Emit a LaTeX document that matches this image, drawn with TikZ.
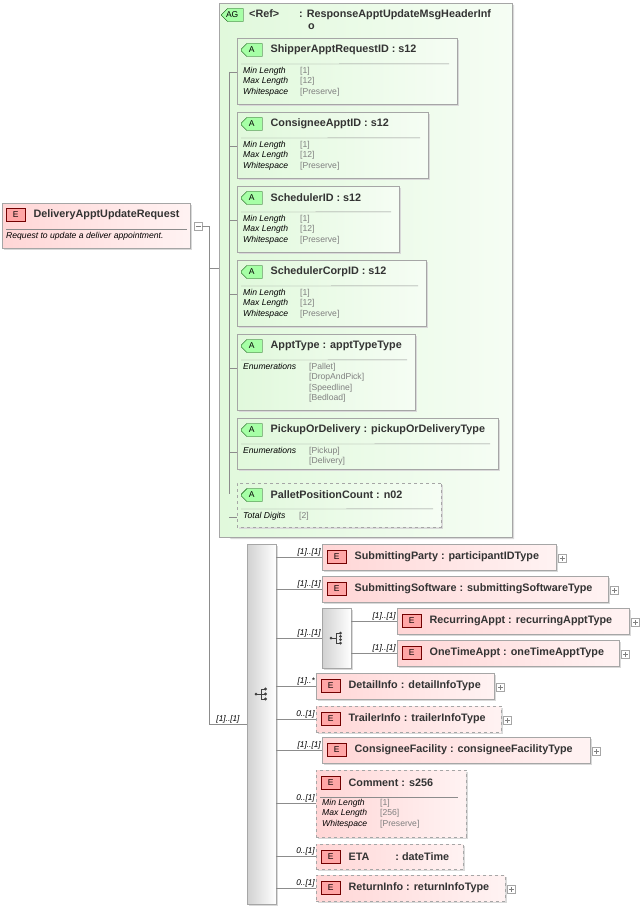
\documentclass[tikz,border=0pt]{standalone}
\usepackage{fontspec}
\setmainfont{Liberation Sans}
\usetikzlibrary{shapes.misc,calc}
\definecolor{epink}{HTML}{FFD6D6}
\definecolor{agreen}{HTML}{D9F7D3}
\definecolor{valgray}{HTML}{808080}
\tikzset{
  elem/.style={draw=black!35,left color=epink,right color=epink!30,inner sep=0,anchor=north west},
  opt/.style={dashed},
  attr/.style={chamfered rectangle,chamfered rectangle corners={north west,south west},
    chamfered rectangle xsep=4pt,draw=black!35,left color=agreen!80,right color=agreen!25,inner sep=0,anchor=north west},
  ebadge/.style={draw=red!45!black,fill=red!35,minimum width=19pt,minimum height=13pt,inner sep=0,
    font=\fontsize{8.5}{9}\selectfont,anchor=west},
  abadge/.style={chamfered rectangle,chamfered rectangle corners={north west,south west},chamfered rectangle xsep=3pt,
    draw=green!30!black,fill=green!35,minimum width=21pt,minimum height=13pt,inner sep=0,
    font=\fontsize{8.5}{9}\selectfont,anchor=west},
  ttl/.style={font=\bfseries\fontsize{10.8}{12}\selectfont,anchor=west,inner sep=0,text=black!80},
  flab/.style={font=\itshape\fontsize{8.6}{10.3}\selectfont,anchor=north west,align=left,inner sep=0},
  fval/.style={font=\fontsize{8.6}{10.3}\selectfont,anchor=north west,align=left,inner sep=0,text=valgray},
  card/.style={font=\itshape\fontsize{8.3}{9}\selectfont,anchor=south east,inner sep=1pt},
  cardy/.style={font=\itshape\fontsize{8.3}{9}\selectfont,anchor=south,inner sep=1pt},
  pls/.style={draw=black!35,fill=white,minimum size=8pt,inner sep=0},
  grp/.style={draw=black!35,left color=black!18,right color=white,inner sep=0,anchor=north west},
  conn/.style={draw=black!45,line width=0.5pt}
}
% element: name, extra style, x, y, w, h, title
\newcommand{\elm}[7]{%
  \fill[black!15] (#3+2,#4+2) rectangle ++(#5,#6);
  \node[elem,#2,minimum width=#5pt,minimum height=#6pt] (#1) at (#3,#4) {};
  \node[ebadge] (#1b) at ([xshift=5pt,yshift=-13pt]#1.north west) {E};
  \node[ttl] (#1t) at ([xshift=8pt]#1b.east) {#7};}
% attribute: name, extra style, y, w, h, title
\newcommand{\att}[6]{%
  \fill[black!15] (239,#3+2) rectangle ++(#4,#5);
  \node[attr,#2,minimum width=#4pt,minimum height=#5pt] (#1) at (237,#3) {};
  \node[abadge] (#1b) at ([xshift=4pt,yshift=-12pt]#1.north west) {A};
  \node[ttl] (#1t) at ([xshift=8pt]#1b.east) {#6};
  \draw[black!45] ($(#1.north west)+(4,26)$) -- ($(#1.north east)+(-8,26)$);}
% facets: box, value offset, labels, values
\newcommand{\fct}[4]{%
  \node[flab] at ($(#1.north west)+(6,29)$) {#3};
  \node[fval] at ($(#1.north west)+(#2,29)$) {#4};}
\begin{document}
\begin{tikzpicture}[x=1pt,y=-1pt]
\useasboundingbox (0,0) rectangle (639,909);
% root element
\fill[black!15] (4,205) rectangle ++(188,45);
\node[elem,minimum width=188pt,minimum height=45pt] (root) at (2,203) {};
\node[ebadge] (rootb) at (6,215) {E};
\node[ttl] (roott) at ([xshift=8pt]rootb.east) {DeliveryApptUpdateRequest};
\draw[black!45] (6,229) -- (187,229);
\node[flab] at (6,232) {Request to update a deliver appointment.};
\node[pls] (rootm) at (198,226) {};
\draw[black!50] (195.5,226) -- (200.5,226);
% attribute group
\fill[black!15] (221,5) -- (514,5) -- (514,539) -- (231,539) -- (221,529) -- cycle;
\node[attr,chamfered rectangle xsep=10pt,minimum width=293pt,minimum height=534pt] (ag) at (219,3) {};
\node[abadge,minimum width=22pt] (agb) at (221,15) {AG};
\node[ttl,anchor=north west] (agref) at (249,9) {<Ref>};
\node[ttl,anchor=north west,align=left] (agt) at (299,9) {: ResponseApptUpdateMsgHeaderInf\\\hspace*{9pt}o};
\att{apr}{}{38}{220}{66}{ShipperApptRequestID : s12}
\fct{apr}{63}{Min Length\\Max Length\\Whitespace}{{[1]}\\{}[12]\\{}[Preserve]}
\att{cai}{}{112}{191}{66}{ConsigneeApptID : s12}
\fct{cai}{63}{Min Length\\Max Length\\Whitespace}{{[1]}\\{}[12]\\{}[Preserve]}
\att{sid}{}{186}{162}{66}{SchedulerID : s12}
\fct{sid}{63}{Min Length\\Max Length\\Whitespace}{{[1]}\\{}[12]\\{}[Preserve]}
\att{scid}{}{260}{189}{66}{SchedulerCorpID : s12}
\fct{scid}{63}{Min Length\\Max Length\\Whitespace}{{[1]}\\{}[12]\\{}[Preserve]}
\att{atype}{}{334}{178}{76}{ApptType : apptTypeType}
\fct{atype}{72}{Enumerations}{{[Pallet]}\\{}[DropAndPick]\\{}[Speedline]\\{}[Bedload]}
\att{pod}{}{418}{261}{51}{PickupOrDelivery : pickupOrDeliveryType}
\fct{pod}{72}{Enumerations}{{[Pickup]}\\{}[Delivery]}
\att{ppc}{opt,fill=white}{483}{204}{44}{PalletPositionCount : n02}
\fct{ppc}{62}{Total Digits}{{[2]}}
\coordinate (agtop) at (229,72);
\draw[conn] (agtop) -- (229,494);
\foreach \a in {apr,cai,sid,scid,atype,pod,ppc}
  \draw[conn] (agtop |- {$(\a.north west)+(0,34)$}) -- ($(\a.north west)+(0,34)$);
% sequence
\fill[black!15] (249,546) rectangle ++(29,360);
\node[grp,minimum width=29pt,minimum height=360pt] (seq) at (247,544) {};
\fill[black!15] (324,610) rectangle ++(29,60);
\node[grp,minimum width=29pt,minimum height=60pt] (cho) at (322,608) {};
% trunk
\coordinate (tk) at (209,226);
\draw[conn] (rootm.east) -- (tk) -- (tk |- seq.west) -- (seq.west) node[cardy,pos=0.5] {[1]..[1]};
\draw[conn] (tk |- 0,268) -- (ag.west |- 0,268);
% sequence icon
\begin{scope}[shift={(261,694)}]
  \fill[black!75] (-5,0) circle (1.5);
  \draw[black!75] (-5,0) -- (0,0) (0,-5) -- (0,5) (0,-5) -- (4,-5) (0,5) -- (4,5) (0,0) -- (4,0);
  \foreach \yy in {-5,0,5} \fill[black!75] (4.5,\yy) circle (1.7);
\end{scope}
% choice icon
\begin{scope}[shift={(336,638)}]
  \fill[black!75] (-5,0) circle (1.5);
  \draw[black!75] (-5,0) -- (0,0) (0,-5) -- (0,5) (0,-5) -- (4,-5) (0,5) -- (4,5);
  \foreach \yy in {-5,-1.7,1.7,5} \fill[black!75] (4.5,\yy) circle (1.5);
\end{scope}
% child elements
\elm{sp}{}{322}{544}{234}{26}{SubmittingParty : participantIDType}
\elm{ss}{}{322}{576}{286}{26}{SubmittingSoftware : submittingSoftwareType}
\elm{ra}{}{397}{608}{232}{26}{RecurringAppt : recurringApptType}
\elm{ota}{}{397}{640}{222}{26}{OneTimeAppt : oneTimeApptType}
\elm{di}{}{316}{673}{178}{26}{DetailInfo : detailInfoType}
\elm{ti}{opt}{316}{706}{185}{26}{TrailerInfo : trailerInfoType}
\elm{cf}{}{322}{737}{268}{26}{ConsigneeFacility : consigneeFacilityType}
\elm{cm}{opt}{316}{770}{150}{67}{Comment : s256}
\draw[black!45] (320,797) -- (458,797);
\fct{cm}{64}{Min Length\\Max Length\\Whitespace}{{[1]}\\{}[256]\\{}[Preserve]}
\elm{eta}{opt}{316}{844}{147}{25}{ETA\hspace{26pt}: dateTime}
\elm{ri}{opt}{316}{875}{189}{26}{ReturnInfo : returnInfoType}
% expand markers
\foreach \e in {sp,ss,ra,ota,di,ti,cf,ri} {
  \node[pls,anchor=west] (\e p) at ([xshift=2pt,yshift=-1pt]\e.east) {};
  \draw[black!50] ([xshift=-2.5pt]\e p.center) -- ([xshift=2.5pt]\e p.center)
    ([yshift=-2.5pt]\e p.center) -- ([yshift=2.5pt]\e p.center);}
% connectors
\foreach \e/\c in {sp/{[1]..[1]},ss/{[1]..[1]},di/{[1]..*},ti/{0..[1]},cf/{[1]..[1]},eta/{0..[1]},ri/{0..[1]}}
  \draw[conn] (seq.east |- \e.west) -- (\e.west) node[card] {\c};
\draw[conn] (seq.east |- cm.west) -- (cm.west) node[card] {0..[1]};
\draw[conn] (seq.east |- cho.west) -- (cho.west) node[card] {[1]..[1]};
\foreach \e in {ra,ota}
  \draw[conn] (cho.east |- \e.west) -- (\e.west) node[card] {[1]..[1]};
\end{tikzpicture}
\end{document}
